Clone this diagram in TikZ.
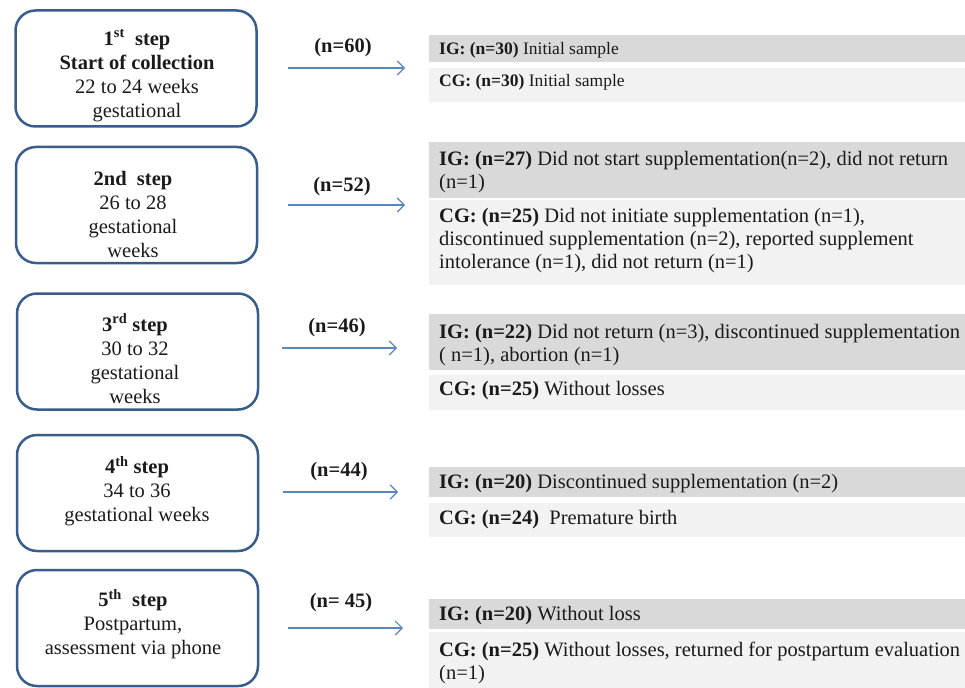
\documentclass[tikz,border=0pt]{standalone}
\usepackage{fontspec}
\setmainfont{Liberation Serif}
\usetikzlibrary{arrows.meta}
\definecolor{boxblue}{HTML}{385D8A}
\definecolor{arrblue}{HTML}{5A86C0}
\definecolor{dgray}{HTML}{D9D9D9}
\definecolor{lgray}{HTML}{F2F2F2}
\definecolor{txt}{HTML}{1A1A1A}
\begin{document}
\begin{tikzpicture}[x=1pt,y=-1pt,
  stepbox/.style={draw=boxblue, line width=2.5pt, rounded corners=20pt, minimum width=241pt, minimum height=116pt, inner sep=0pt},
  steptext/.style={align=center, text=txt, font=\fontsize{20.5}{24}\selectfont, inner sep=0pt},
  bar/.style={anchor=north west, minimum width=536pt, inner sep=0pt},
  bartext/.style={anchor=west, align=left, text=txt, font=\fontsize{20.5}{23}\selectfont, inner sep=0pt},
  smalltext/.style={bartext, font=\fontsize{17.5}{20}\selectfont},
  nlabel/.style={text=txt, font=\bfseries\fontsize{20.5}{24}\selectfont, inner sep=0pt},
  arr/.style={draw=arrblue, line width=1.1pt, -{Straight Barb[length=7pt,width=14pt]}}
]
\useasboundingbox (0,0) rectangle (965,687);

% ---- left step boxes
\node[stepbox] (s1) at (136,68.5) {};
\node[stepbox] (s2) at (136.5,205) {};
\node[stepbox] (s3) at (137.5,351.5) {};
\node[stepbox] (s4) at (137.5,493) {};
\node[stepbox] (s5) at (137.5,628) {};

\node[steptext] (t1) at (137,75.5) {\textbf{1\textsuperscript{st}\ \ step}\\ \textbf{Start of collection}\\ 22 to 24 weeks\\ gestational};
\node[steptext] (t2) at (133,214) {\textbf{2nd\ \ step}\\ 26 to 28\\ gestational\\ weeks};
\node[steptext] (t3) at (135,358.5) {\textbf{3\textsuperscript{rd} step}\\ 30 to 32\\ gestational\\ weeks};
\node[steptext] (t4) at (137,491) {\textbf{4\textsuperscript{th} step}\\ 34 to 36\\ gestational weeks};
\node[steptext] (t5) at (133,624) {\textbf{5\textsuperscript{th}\ \ step}\\ Postpartum,\\ assessment via phone};

% ---- right bars
\node[bar, fill=dgray, minimum height=27pt] (ig1) at (429,35) {};
\node[bar, fill=lgray, minimum height=34pt] (cg1) at (429,68) {};
\node[bar, fill=dgray, minimum height=56pt] (ig2) at (429,142) {};
\node[bar, fill=lgray, minimum height=85pt] (cg2) at (429,200) {};
\node[bar, fill=dgray, minimum height=56pt] (ig3) at (429,314) {};
\node[bar, fill=lgray, minimum height=35pt] (cg3) at (429,375) {};
\node[bar, fill=dgray, minimum height=30pt] (ig4) at (429,467) {};
\node[bar, fill=lgray, minimum height=34pt] (cg4) at (429,503) {};
\node[bar, fill=dgray, minimum height=30pt] (ig5) at (429,599) {};
\node[bar, fill=lgray, minimum height=56pt] (cg5) at (429,632) {};

\node[smalltext] (ig1t) at (439,50) {\textbf{IG: (n=30)} Initial sample};
\node[smalltext] (cg1t) at (439,82.5) {\textbf{CG: (n=30)} Initial sample};
\node[bartext] (ig2t) at (439,172.5) {\textbf{IG: (n=27)} Did not start supplementation(n=2), did not return\\ (n=1)};
\node[bartext] (cg2t) at (439,240.5) {\textbf{CG: (n=25)} Did not initiate supplementation (n=1),\\ discontinued supplementation (n=2), reported supplement\\ intolerance (n=1), did not return (n=1)};
\node[bartext] (ig3t) at (439,345) {\textbf{IG: (n=22)} Did not return (n=3), discontinued supplementation\\ ( n=1), abortion (n=1)};
\node[bartext] (cg3t) at (439,391) {\textbf{CG: (n=25)} Without losses};
\node[bartext] (ig4t) at (439,484) {\textbf{IG: (n=20)} Discontinued supplementation (n=2)};
\node[bartext] (cg4t) at (439,520) {\textbf{CG: (n=24)}\ \ Premature birth};
\node[bartext] (ig5t) at (439,616) {\textbf{IG: (n=20)} Without loss};
\node[bartext] (cg5t) at (439,663) {\textbf{CG: (n=25)} Without losses, returned for postpartum evaluation\\ (n=1)};

% ---- arrows and labels
\coordinate (a1s) at (288,68);  \coordinate (a1e) at (405,68);
\coordinate (a2s) at (288,205); \coordinate (a2e) at (405,205);
\coordinate (a3s) at (282,348); \coordinate (a3e) at (397,348);
\coordinate (a4s) at (283,492); \coordinate (a4e) at (398,492);
\coordinate (a5s) at (288,628); \coordinate (a5e) at (403,628);
\draw[arr] (a1s) -- (a1e);
\draw[arr] (a2s) -- (a2e);
\draw[arr] (a3s) -- (a3e);
\draw[arr] (a4s) -- (a4e);
\draw[arr] (a5s) -- (a5e);

\node[nlabel] (n1) at (343,48) {(n=60)};
\node[nlabel] (n2) at (342,187) {(n=52)};
\node[nlabel] (n3) at (337,328) {(n=46)};
\node[nlabel] (n4) at (339,472) {(n=44)};
\node[nlabel] (n5) at (341,603) {(n= 45)};
\end{tikzpicture}
\end{document}
